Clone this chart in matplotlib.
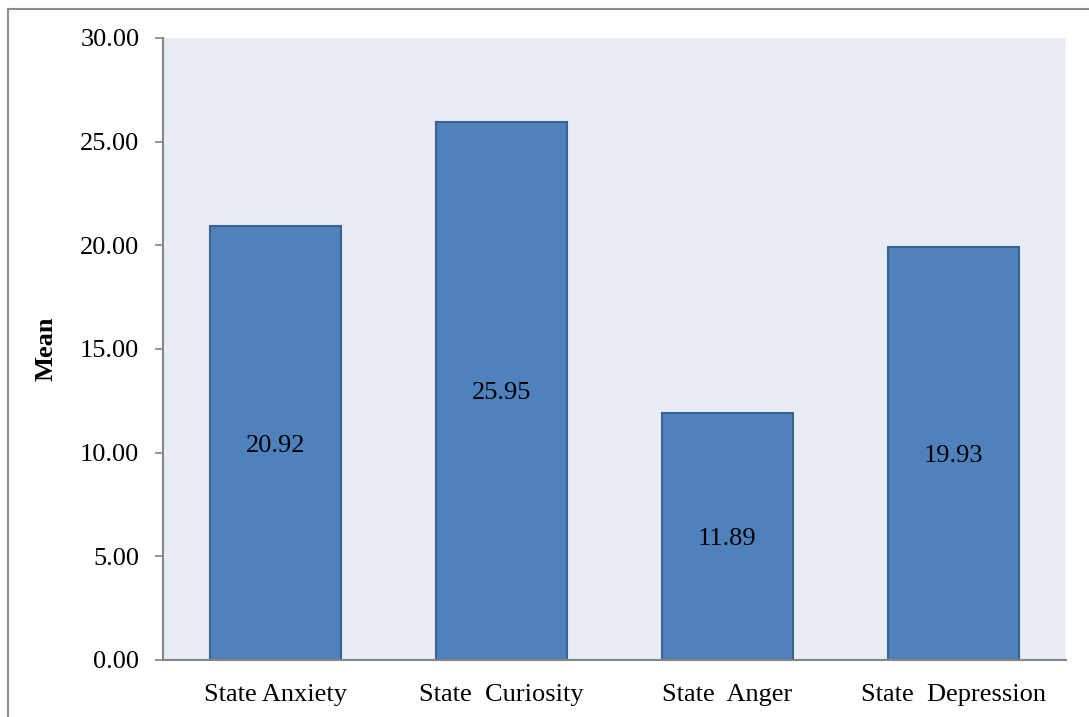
import matplotlib.pyplot as plt
from matplotlib.lines import Line2D

categories = ["State Anxiety", "State  Curiosity", "State  Anger", "State  Depression"]
means = [20.92, 25.95, 11.89, 19.93]
yticks = [0, 5, 10, 15, 20, 25, 30]

W, H = 1089, 717
plt.rcParams['font.family'] = ['Liberation Serif', 'DejaVu Serif']

fig = plt.figure(figsize=(W / 100, H / 100), dpi=100)
ax = fig.add_axes([163 / W, 1 - 660 / H, (1066 - 163) / W, (660 - 38) / H])
ax.set_facecolor('#E8ECF4')

x = range(len(categories))
ax.bar(x, means, width=0.58, color='#4F81BD', edgecolor='#3A6392', linewidth=1.5, zorder=2)
for xi, v in zip(x, means):
    ax.text(xi, v / 2, f"{v:.2f}", ha='center', va='center_baseline', fontsize=19, color='black', zorder=3)

ax.set_xlim(-0.5, len(categories) - 0.5)
ax.set_ylim(0, 30)
ax.set_yticks(yticks)
ax.set_yticklabels([f"{t:.2f}" for t in yticks], fontsize=19)
ax.set_xticks(list(x))
ax.set_xticklabels(categories, fontsize=19)
ax.tick_params(axis='x', length=0, pad=17)
ax.tick_params(axis='y', length=6, width=1.2, color='#868686', pad=11)

for s in ['top', 'right']:
    ax.spines[s].set_visible(False)
for s in ['left', 'bottom']:
    ax.spines[s].set_color('#868686')
    ax.spines[s].set_linewidth(1.5)

ax.set_ylabel("Mean", fontsize=19, fontweight='bold', labelpad=16)

# outer frame (only top and left visible in the crop)
fig.add_artist(Line2D([8 / W, 8 / W], [0, 1 - 9 / H], color='#8C8C8C', linewidth=1.5))
fig.add_artist(Line2D([8 / W, 1], [1 - 9 / H, 1 - 9 / H], color='#8C8C8C', linewidth=1.5))

fig.savefig("out.png", dpi=100)
